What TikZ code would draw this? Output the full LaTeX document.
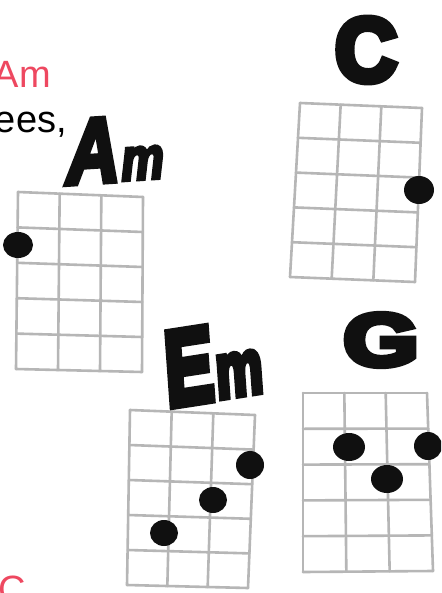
\documentclass[tikz,border=0pt]{standalone}
\usepackage{fontspec}
\setmainfont{Liberation Sans}
\newfontfamily\brush{Liberation Sans Bold}[FakeBold=8]
\newfontfamily\brushit{Liberation Sans Bold Italic}[FakeBold=6]
\usetikzlibrary{calc}
\definecolor{songred}{RGB}{238,72,96}
\definecolor{pencil}{RGB}{182,182,182}
\definecolor{ink}{RGB}{16,16,16}
\tikzset{
  gridline/.style={draw=pencil,line width=2.6pt,line cap=round},
  fingerdot/.style={fill=ink},
  lyric/.style={font=\fontsize{38}{40}\selectfont,inner sep=0pt},
  handlabel/.style={text=ink,inner sep=0pt},
}
\newcommand\ukegrid[4]{%
  \foreach \i in {0,1,2,3}
    \draw[gridline] ($(#1)!{\i/3}!(#2)$) -- ($(#3)!{\i/3}!(#4)$);
  \foreach \j in {0,1,2,3,4,5}
    \draw[gridline] ($(#1)!{\j/5}!(#3)$) -- ($(#2)!{\j/5}!(#4)$);
}
\begin{document}
\begin{tikzpicture}[x=1pt,y=-1pt]
\useasboundingbox (0,0) rectangle (441,593);
\clip (0,0) rectangle (441,593);
\fill[white] (0,0) rectangle (441,593);

% lyrics
\node[lyric,text=songred,anchor=base east] (redAm) at (51,88) {Am};
\node[lyric,anchor=base east] (ees) at (67,133) {ees,};
\node[lyric,text=songred,anchor=base west] (redC) at (-2,602) {C};

% grid corners
\coordinate (amTL) at (18,192);  \coordinate (amTR) at (143,197);
\coordinate (amBL) at (16,369);  \coordinate (amBR) at (142,372);
\coordinate (cTL) at (300,103);  \coordinate (cTR) at (422,108);
\coordinate (cBL) at (290,277);  \coordinate (cBR) at (415,282);
\coordinate (emTL) at (130,410); \coordinate (emTR) at (255,415);
\coordinate (emBL) at (127,585); \coordinate (emBR) at (248,588);
\coordinate (gTL) at (303,393);  \coordinate (gTR) at (427,393);
\coordinate (gBL) at (303,572);  \coordinate (gBR) at (433,571);

\ukegrid{amTL}{amTR}{amBL}{amBR}
\ukegrid{cTL}{cTR}{cBL}{cBR}
\ukegrid{emTL}{emTR}{emBL}{emBR}
\ukegrid{gTL}{gTR}{gBL}{gBR}

% finger dots
\fill[fingerdot] (18,245) ellipse [x radius=15, y radius=13];
\fill[fingerdot] (419,190) ellipse [x radius=15, y radius=14];
\fill[fingerdot] (250,465) ellipse [x radius=14, y radius=14];
\fill[fingerdot] (213,500) ellipse [x radius=14, y radius=13];
\fill[fingerdot] (164,533) ellipse [x radius=14, y radius=13];
\fill[fingerdot] (349,447) ellipse [x radius=16, y radius=14];
\fill[fingerdot] (428,446) ellipse [x radius=14, y radius=14];
\fill[fingerdot] (387,479) ellipse [x radius=16, y radius=14];

% hand-lettered chord names
\node[handlabel,anchor=base,xscale=0.8,rotate=3] (lblAm) at (116,181)
  {\brushit\fontsize{92}{92}\selectfont A\kern2pt\fontsize{60}{60}\selectfont m};
\node[handlabel,xscale=0.95] (lblC) at (366,50)
  {\brush\fontsize{90}{90}\selectfont C};
\node[handlabel,anchor=base,xscale=0.68,rotate=6] (lblEm) at (216,399)
  {\brush\fontsize{106}{106}\selectfont E\kern3pt\fontsize{78}{78}\selectfont m};
\node[handlabel,xscale=1.3] (lblG) at (381,340)
  {\brush\fontsize{74}{74}\selectfont G};
\end{tikzpicture}
\end{document}
